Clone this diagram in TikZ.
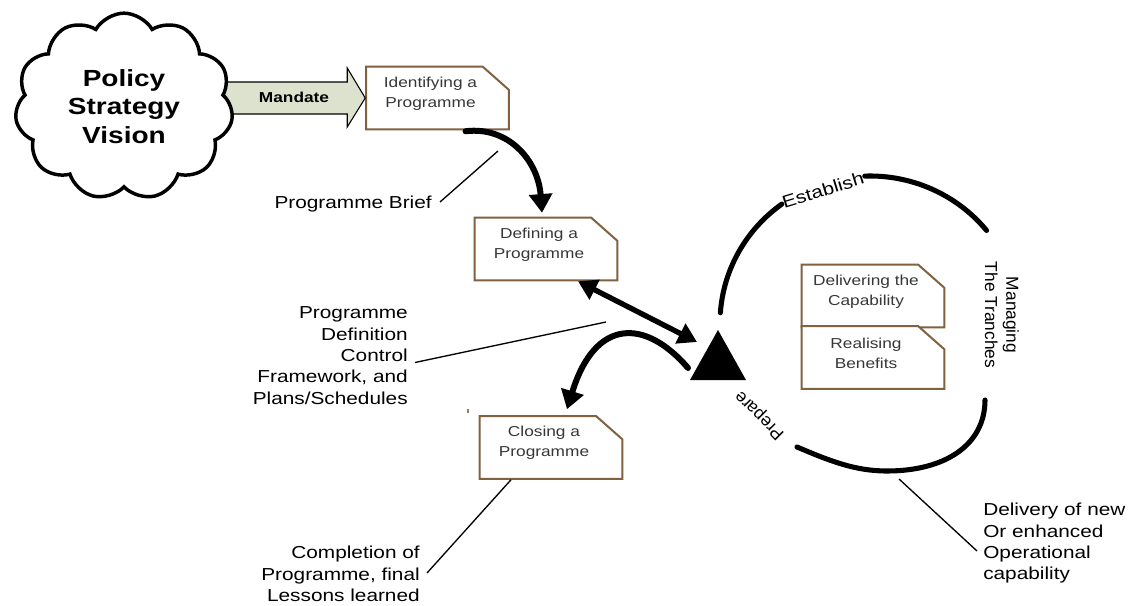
\documentclass[tikz,border=0pt]{standalone}
\usepackage{fontspec}
\setmainfont{Liberation Sans}[FakeStretch=1.2]
\newfontfamily\plainsans{Liberation Sans}
\usetikzlibrary{arrows.meta,shapes.symbols}

\definecolor{boxbrown}{RGB}{128,98,64}
\definecolor{boxgray}{RGB}{55,55,55}
\definecolor{mandatefill}{RGB}{221,226,206}

% outline of a process box with its upper right corner cut off
\newcommand\cutframe[1]{%
  \draw[frame] (#1.north west) -- ([xshift=-19.5pt]#1.north east)
    -- ([yshift=-17.25pt]#1.north east) -- (#1.south east)
    -- (#1.south west) -- cycle;}

\begin{document}
\begin{tikzpicture}[x=0.75pt, y=-0.75pt,
  lbl/.style={font=\fontsize{13pt}{16pt}\selectfont, inner sep=0pt},
  rotlbl/.style={font=\plainsans\fontsize{13pt}{16pt}\selectfont, inner sep=0pt},
  boxtext/.style={font=\fontsize{10.8pt}{15pt}\selectfont, text=boxgray, align=center, inner sep=0pt},
  progbox/.style={minimum width=106.5pt, minimum height=46.5pt, inner sep=0pt},
  frame/.style={draw=boxbrown, line width=1.5pt, fill=white, line join=miter},
  flow/.style={line width=4.5pt, line cap=round, -{Triangle[length=14pt,width=17pt]}},
  flowtwo/.style={line width=4pt, {Triangle[length=14pt,width=16pt]}-{Triangle[length=14pt,width=16pt]}},
  cyclearc/.style={line width=3.8pt, line cap=round},
  leader/.style={line width=1pt},
  cloudshape/.style={cloud, cloud puffs=11, cloud puff arc=120, cloud ignores aspect,
    minimum width=163.5pt, minimum height=140pt, draw, line width=2.6pt, fill=white,
    align=center, inner sep=0pt, font=\bfseries\fontsize{17.5pt}{21.4pt}\selectfont}]

\fill[white] (0,0) rectangle (1134,606);
\useasboundingbox (0,0) rectangle (1134,606);

% process boxes
\node[progbox] (ident) at (437.5,98) {};
\node[progbox] (defining) at (546,249) {};
\node[progbox] (closing) at (551,447.5) {};
\node[progbox] (delivering) at (873,296) {};
\node[progbox] (realising) at (873,357.5) {};
\cutframe{ident}
\cutframe{defining}
\cutframe{closing}
\cutframe{delivering}
\cutframe{realising}

\node[boxtext] (ident-t) at ([shift={(-7,-4.5)}]ident.center) {Identifying a\\Programme};
\node[boxtext] (defining-t) at ([shift={(-7,-4.5)}]defining.center) {Defining a\\Programme};
\node[boxtext] (closing-t) at ([shift={(-7,-4.5)}]closing.center) {Closing a\\Programme};
\node[boxtext] (delivering-t) at ([shift={(-7,-4.5)}]delivering.center) {Delivering the\\Capability};
\node[boxtext] (realising-t) at ([shift={(-7,-4.5)}]realising.center) {Realising\\Benefits};

% mandate block arrow, its tail hidden behind the cloud
\filldraw[draw=black, line width=0.8pt, fill=mandatefill, line join=miter]
  ([shift={(-162,-16)}]ident.west) -- ([shift={(-19,-16)}]ident.west)
  -- ([shift={(-19,-30)}]ident.west) -- ([shift={(-1,0)}]ident.west)
  -- ([shift={(-19,29)}]ident.west) -- ([shift={(-19,16)}]ident.west)
  -- ([shift={(-162,16)}]ident.west) -- cycle;
\node[font=\bfseries\fontsize{10.8pt}{13pt}\selectfont, inner sep=0pt] (mandate) at (294,97.5) {Mandate};

\node[cloudshape] (cloud) at (124,106.5) {Policy\\Strategy\\Vision};

% tranche cycle
\coordinate (loop) at (870,323);
\coordinate (tri) at (718,363);
\fill ([shift={(0,-33)}]tri) -- ([shift={(28,17)}]tri) -- ([shift={(-28,17)}]tri) -- cycle;
\draw[cyclearc] (loop) ++(184:150 and 147) arc[start angle=184, end angle=234, x radius=150, y radius=147];
\draw[cyclearc] (loop) ++(268:150 and 147) arc[start angle=268, end angle=321, x radius=150, y radius=147];
\draw[cyclearc] ([shift={(-73,124)}]loop) .. controls (830,461) and (855,471) .. (887,471)
  .. controls (945,471) and (985,445) .. ([shift={(115,77)}]loop);
\node[lbl, rotate=17] (establish) at (823,190) {Establish};
\node[rotlbl, rotate=135] (prepare) at (760,415) {Prepare};
\node[rotlbl, rotate=-90, align=center] (tranches) at (1002,315) {Managing\\The Tranches};

% flow between the processes
\draw[flow] ([shift={(28,2)}]ident.south) .. controls (508,126) and (538,160) .. ([shift={(-4,-5)}]defining.north);
\draw[flowtwo] ([shift={(32,1)}]defining.south) -- ([shift={(-21,-21)}]tri);
\draw[flow] ([shift={(-30,5)}]tri) .. controls (645,318) and (595,318) .. ([shift={(16,-7)}]closing.north);

% annotations
\node[lbl, anchor=east] (brief) at (432,204) {Programme Brief};
\node[lbl, anchor=east, align=right] (pdef) at (408,355.5) {Programme\\Definition\\Control\\Framework, and\\Plans/Schedules};
\node[lbl, anchor=east, align=right] (completion) at (420,574) {Completion of\\Programme, final\\Lessons learned};
\node[lbl, anchor=west, align=left] (delivery) at (983,543.5) {Delivery of new\\Or enhanced\\Operational\\capability};

\coordinate (briefend) at (498,151);
\coordinate (pdefend) at (606,322);
\coordinate (deliveryend) at (899,479);
\draw[leader] ([shift={(8,-2)}]brief.east) -- (briefend);
\draw[leader] ([shift={(7,7)}]pdef.east) -- (pdefend);
\draw[leader] ([shift={(7,-1)}]completion.east) -- ([shift={(-40,1)}]closing.south);
\draw[leader] ([shift={(-6,7.5)}]delivery.west) -- (deliveryend);

\fill[boxbrown!80] (466.5,409) rectangle (468.5,413);
\end{tikzpicture}
\end{document}
